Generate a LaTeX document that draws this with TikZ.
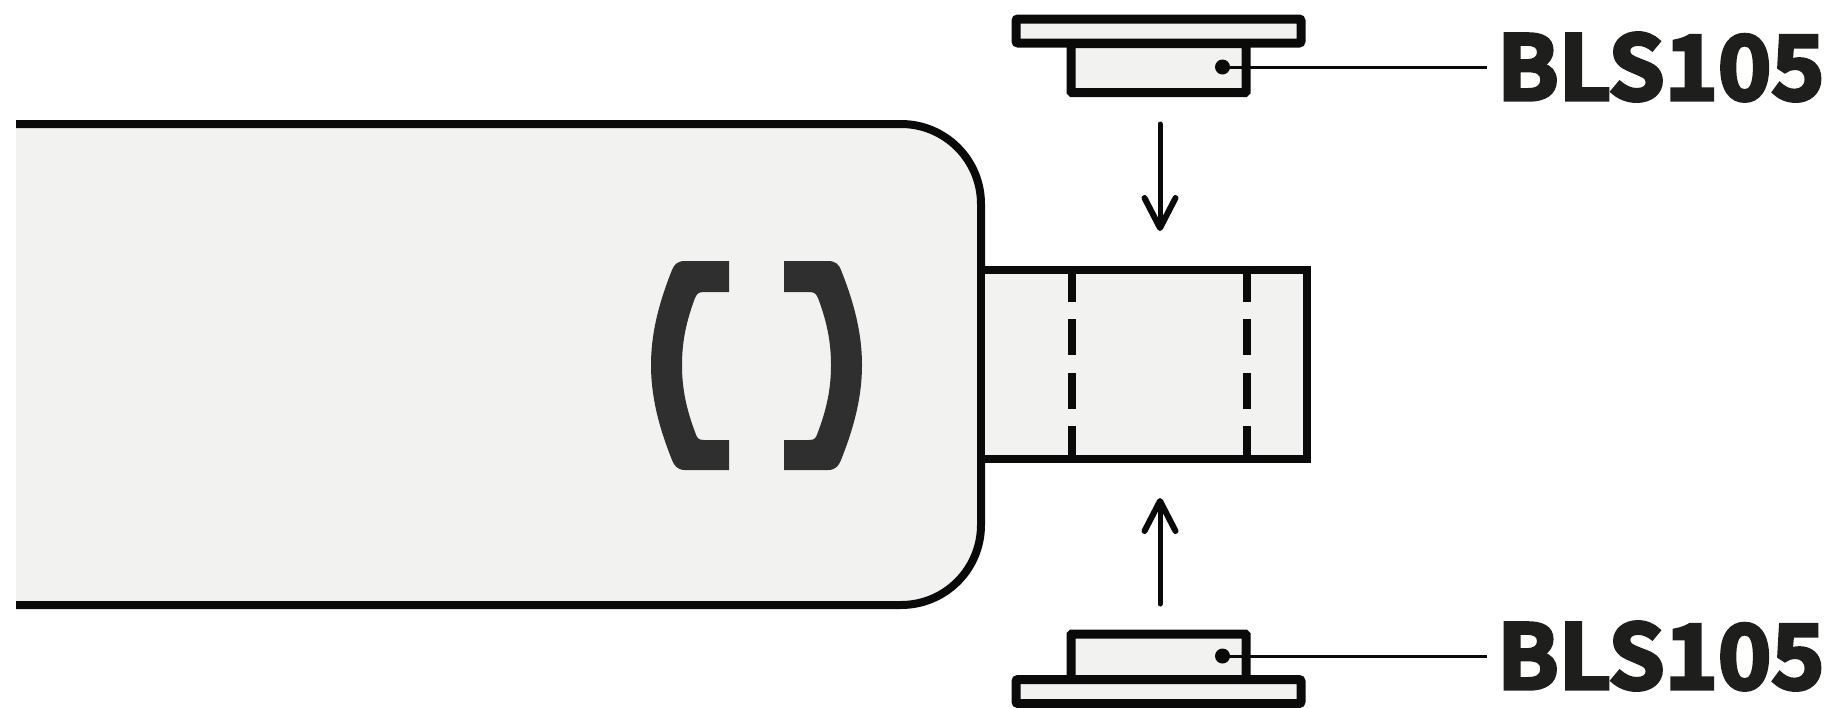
\documentclass[tikz,border=0pt]{standalone}
\usepackage{fontspec}
\usepackage{graphicx}
\usetikzlibrary{arrows.meta,positioning,calc}
\newfontfamily\labelfont{Noto Sans CJK SC Bold}[FakeBold=4]
\definecolor{bodygray}{HTML}{F2F2F0}
\definecolor{inkblack}{HTML}{0A0A0A}
\definecolor{gripgray}{HTML}{2F2F2F}
\definecolor{textblack}{HTML}{1E1E1C}
\tikzset{
  part/.style={draw=inkblack,fill=bodygray,line width=9pt,inner sep=0pt,outer sep=0pt},
  plate/.style={part,rounded corners=2pt,minimum width=285pt,minimum height=24pt},
  sensor/.style={part,rounded corners=1pt,minimum width=175pt,minimum height=49pt},
  pin/.style={circle,fill=inkblack,minimum size=15pt,inner sep=0pt},
  partlabel/.style={font=\labelfont\fontsize{89}{89}\selectfont,text=textblack,anchor=west,inner sep=0pt},
  leader/.style={draw=inkblack,line width=3pt},
  motion/.style={draw=inkblack,line width=5pt,line cap=round,-{Straight Barb[length=30pt,width=31pt,line width=6pt,round]}},
  slot/.style={draw=inkblack,line width=8pt,dash pattern=on 36pt off 17.5pt}
}
\begin{document}
\begin{tikzpicture}[x=1pt,y=-1pt]
\useasboundingbox (0,0) rectangle (1836,707);
% main body, open on the left
\draw[draw=inkblack,fill=bodygray,line width=8pt,rounded corners=80pt] (16,124) -- (981,124) -- (981,605) -- (16,605);
% grips
\fill[gripgray] (729,261) -- (685,261) .. controls (677,261) and (674,265) .. (672,270) .. controls (658,305) and (651,335) .. (651,365) .. controls (651,395) and (658,425) .. (672,460) .. controls (674,465) and (677,470) .. (685,470) -- (729,470) -- (729,440) -- (704,440) .. controls (698,440) and (697,438) .. (695,432) .. controls (686,408) and (682,388) .. (682,365) .. controls (682,342) and (686,322) .. (695,298) .. controls (697,294) and (698,292) .. (704,292) -- (729,292) -- cycle;
\fill[gripgray] (784,261) -- (828,261) .. controls (836,261) and (839,265) .. (841,270) .. controls (855,305) and (862,335) .. (862,365) .. controls (862,395) and (855,425) .. (841,460) .. controls (839,465) and (836,470) .. (828,470) -- (784,470) -- (784,440) -- (809,440) .. controls (815,440) and (816,438) .. (818,432) .. controls (827,408) and (831,388) .. (831,365) .. controls (831,342) and (827,322) .. (818,298) .. controls (816,294) and (815,292) .. (809,292) -- (784,292) -- cycle;
% tab
\node[part,line width=8pt,minimum width=326pt,minimum height=189pt] (tab) at (1144,364.5) {};
\draw[slot] (1072,265.5) -- (1072,464);
\draw[slot] (1246.5,265.5) -- (1246.5,464);
% upper sensor
\node[sensor] (sensorTop) at (1158.5,68) {};
\node[plate] (plateTop) at (1158.5,31) {};
\node[pin] (pinTop) at (1222.5,67) {};
\node[partlabel] (labelTop) at (1497,67) {\scalebox{1.015}[1]{BLS105}};
\draw[leader] (pinTop.center) -- ($(labelTop.west)+(-10,0)$);
% lower sensor
\node[sensor,minimum height=46pt] (sensorBot) at (1158.5,657) {};
\node[plate] (plateBot) at (1158.5,691.5) {};
\node[pin] (pinBot) at (1222.5,656) {};
\node[partlabel] (labelBot) at (1497,656) {\scalebox{1.015}[1]{BLS105}};
\draw[leader] (pinBot.center) -- ($(labelBot.west)+(-10,0)$);
% motion arrows
\coordinate (fromTop) at (1160,124);
\coordinate (toTop) at (1160,231);
\coordinate (fromBot) at (1160,604);
\coordinate (toBot) at (1160,498);
\draw[motion] (fromTop) -- (toTop);
\draw[motion] (fromBot) -- (toBot);
\end{tikzpicture}
\end{document}
